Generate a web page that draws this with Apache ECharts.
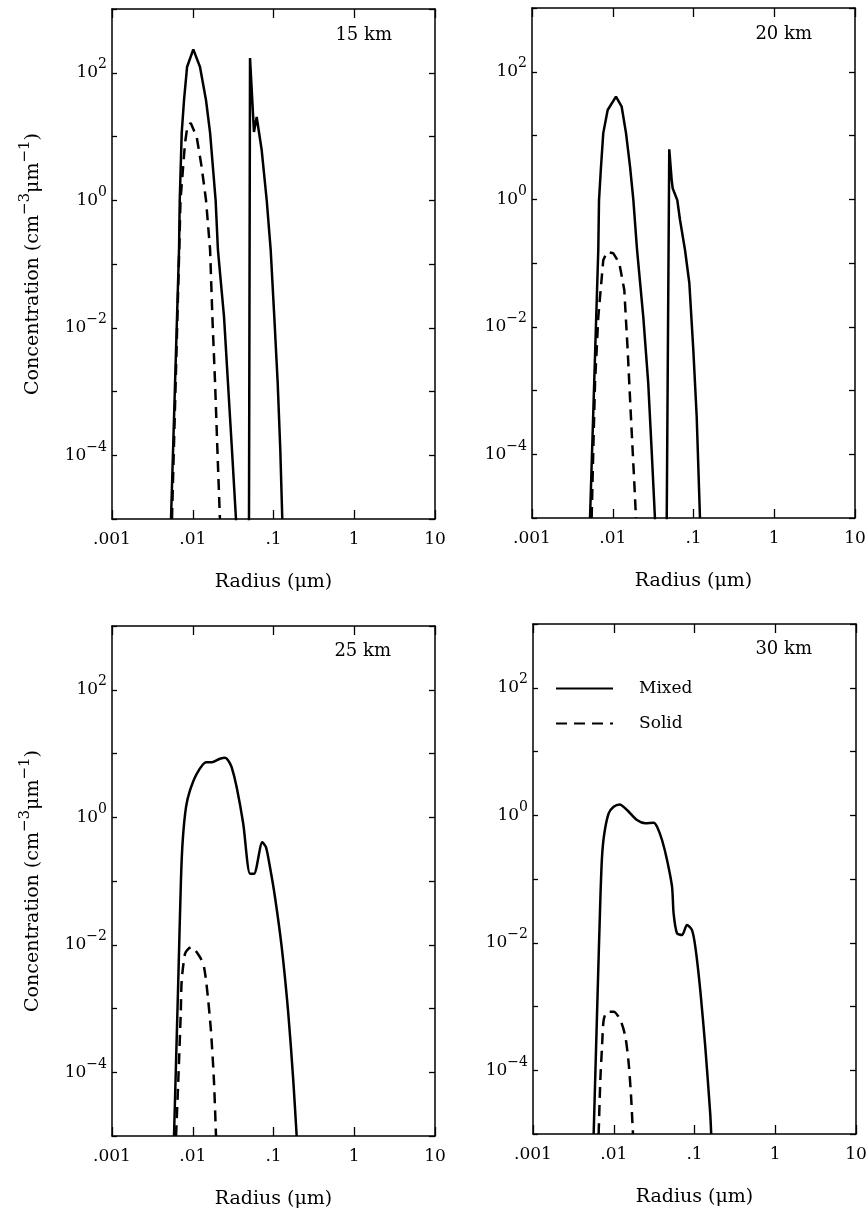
<!DOCTYPE html>
<html>
<head>
<meta charset="utf-8">
<title>Aerosol size distributions</title>
<script src="https://cdn.jsdelivr.net/npm/echarts@6/dist/echarts.min.js"></script>
<style>
  html, body { margin: 0; padding: 0; background: #fff; }
  #chart { width: 867px; height: 1214px; }
</style>
</head>
<body>
<div id="chart"></div>
<script>
// tick labels
const xTickLabels = ['.001', '.01', '.1', '1', '10'];
const yTickExponents = [-4, -2, 0, 2];
const altitudes = ['15 km', '20 km', '25 km', '30 km'];
const seriesNames = ['Mixed', 'Solid'];

// 15 km (radius in um, concentration in cm-3 um-1)
const r15Mixed = [0.00538, 0.00676, 0.0069, 0.0073, 0.0078, 0.0085, 0.01016, 0.0123, 0.0146, 0.0164, 0.0192, 0.0205, 0.0244, 0.0273, 0.0306, 0.0343, 0.036, 0.048, 0.0497, 0.0512, 0.0573, 0.0619, 0.0714, 0.0824, 0.0923, 0.1023, 0.1127, 0.1214, 0.1285];
const c15Mixed = [1e-5, 0.166, 1.0, 11.4, 37.4, 123, 233, 123, 37, 11.4, 1.0, 0.166, 0.0148, 0.00136, 1.21e-4, 1e-5, 1e-7, 1e-7, 1e-5, 170, 11.8, 20.2, 6.14, 1.0, 0.166, 0.0148, 0.00136, 1.21e-4, 1e-5];
const r15Solid = [0.00553, 0.0068, 0.00705, 0.00802, 0.00857, 0.00944, 0.0112, 0.0129, 0.0146, 0.0164, 0.0175, 0.0189, 0.0202, 0.0217];
const c15Solid = [1e-5, 0.166, 1.0, 7.9, 14.1, 16.3, 9.8, 3.3, 1.0, 0.166, 0.0148, 0.00136, 1.21e-4, 1e-5];

// 20 km
const r20Mixed = [0.00523, 0.00662, 0.00676, 0.00715, 0.00763, 0.00865, 0.01097, 0.0129, 0.0146, 0.0164, 0.0180, 0.0200, 0.0239, 0.0275, 0.0303, 0.0333, 0.036, 0.045, 0.0466, 0.0501, 0.0537, 0.0552, 0.0630, 0.0681, 0.0785, 0.0888, 0.0995, 0.1096, 0.1203];
const c20Mixed = [1e-5, 0.16, 0.97, 3.2, 10.9, 25.1, 40.6, 28.3, 10.9, 3.2, 0.97, 0.16, 0.0142, 0.00131, 1.17e-4, 1e-5, 1e-7, 1e-7, 1e-5, 6.08, 2.0, 1.49, 0.97, 0.473, 0.16, 0.0485, 0.00431, 3.8e-4, 1e-5];
const r20Solid = [0.00548, 0.00574, 0.00603, 0.00662, 0.00763, 0.0085, 0.01017, 0.01205, 0.0139, 0.0153, 0.0168, 0.0185, 0.0194];
const c20Solid = [1e-5, 1.17e-4, 0.00131, 0.0142, 0.111, 0.149, 0.142, 0.1, 0.0377, 0.00431, 3.84e-4, 3.5e-5, 1e-5];

// 25 km
const r25Mixed = [0.00586, 0.00662, 0.00714, 0.00751, 0.00825, 0.00924, 0.0112, 0.0146, 0.0172, 0.0217, 0.0251, 0.0275, 0.0303, 0.035, 0.0422, 0.0512, 0.0574, 0.0727, 0.0807, 0.0905, 0.1044, 0.1264, 0.1526, 0.1758, 0.1936];
const c25Mixed = [1e-5, 0.00275, 0.102, 0.431, 1.44, 2.63, 4.8, 7.3, 7.3, 8.26, 8.57, 7.76, 6.1, 2.96, 0.789, 0.130, 0.130, 0.406, 0.339, 0.164, 0.0557, 0.00916, 8.26e-4, 7.4e-5, 1e-5];
const r25Solid = [0.00621, 0.00662, 0.0071, 0.0073, 0.00802, 0.00881, 0.0097, 0.0123, 0.0138, 0.0151, 0.0168, 0.0183, 0.0194];
const c25Solid = [1e-5, 7.4e-5, 8.3e-4, 0.00275, 0.0072, 0.00863, 0.00916, 0.00638, 0.00445, 0.00191, 4.5e-4, 7.4e-5, 1e-5];

// 30 km
const r30Mixed = [0.00564, 0.00621, 0.00682, 0.00716, 0.00765, 0.00865, 0.00997, 0.01184, 0.0146, 0.0194, 0.0246, 0.0312, 0.0344, 0.0396, 0.0457, 0.0527, 0.0551, 0.0607, 0.070, 0.0807, 0.0931, 0.1023, 0.1178, 0.1359, 0.1565, 0.161];
const c30Mixed = [1e-5, 7.8e-4, 0.0469, 0.224, 0.521, 1.07, 1.36, 1.48, 1.21, 0.84, 0.748, 0.764, 0.66, 0.409, 0.199, 0.0757, 0.029, 0.0141, 0.0132, 0.019, 0.0158, 0.00867, 0.00182, 2.34e-4, 2.1e-5, 1e-5];
const r30Solid = [0.0065, 0.00682, 0.00716, 0.0075, 0.00826, 0.00997, 0.0121, 0.0139, 0.0153, 0.0164, 0.0173];
const c30Solid = [1e-5, 7.0e-5, 2.34e-4, 6.1e-4, 8.3e-4, 8.3e-4, 6.1e-4, 3.4e-4, 1.29e-4, 3.8e-5, 1e-5];

const panels = [
  { mixed: [r15Mixed, c15Mixed], solid: [r15Solid, c15Solid] },
  { mixed: [r20Mixed, c20Mixed], solid: [r20Solid, c20Solid] },
  { mixed: [r25Mixed, c25Mixed], solid: [r25Solid, c25Solid] },
  { mixed: [r30Mixed, c30Mixed], solid: [r30Solid, c30Solid] }
];

const font = 'DejaVu Serif';
const black = '#000';

const grids = [
  { left: 112, top: 9, width: 323, height: 510 },
  { left: 532, top: 8, width: 323, height: 510 },
  { left: 112, top: 626, width: 323, height: 510 },
  { left: 533, top: 624, width: 323, height: 510 }
];
const titlePos = [
  { right: 475, top: 26 },
  { right: 55, top: 25 },
  { right: 476, top: 642 },
  { right: 55, top: 640 }
];

function zip(xs, ys) {
  return xs.map((x, i) => [x, ys[i]]);
}
function supText(e) {
  return String(e).replace('-', '\u2212');
}

const axisLineStyle = { color: black, width: 1.5 };
const tickStyle = { color: black, width: 1.3 };

const option = {
  animation: false,
  backgroundColor: '#fff',
  title: [],
  grid: [],
  xAxis: [],
  yAxis: [],
  series: [],
  legend: {
    data: seriesNames,
    orient: 'vertical',
    left: 555,
    top: 680,
    padding: 0,
    itemGap: 18,
    itemWidth: 57,
    itemHeight: 14,
    selectedMode: false,
    itemStyle: { opacity: 0, color: 'rgba(0,0,0,0)', borderWidth: 0 },
    textStyle: { fontFamily: font, fontSize: 17, color: black, padding: [0, 0, 0, 21] }
  }
};

grids.forEach((g, i) => {
  option.grid.push(Object.assign({ show: false, containLabel: false, outerBoundsMode: 'none' }, g));

  option.title.push({
    text: altitudes[i],
    right: titlePos[i].right,
    top: titlePos[i].top,
    padding: 0,
    textStyle: { fontFamily: font, fontSize: 18, fontWeight: 'normal', color: black }
  });

  // bottom x axis
  option.xAxis.push({
    type: 'log', logBase: 10, gridIndex: i, position: 'bottom',
    min: 0.001, max: 10,
    axisLine: { show: true, onZero: false, lineStyle: axisLineStyle },
    axisTick: { show: true, inside: true, length: 9, lineStyle: tickStyle },
    splitLine: { show: false },
    axisLabel: {
      show: true, margin: 12, color: black, fontFamily: font, fontSize: 17,
      showMinLabel: true, showMaxLabel: true, hideOverlap: false,
      formatter: v => xTickLabels[Math.round(Math.log10(v)) + 3]
    },
    name: 'Radius (\u03bcm)',
    nameLocation: 'middle',
    nameGap: 54,
    nameTextStyle: { fontFamily: font, fontSize: 19, color: black }
  });
  // top x axis (frame + ticks)
  option.xAxis.push({
    type: 'log', logBase: 10, gridIndex: i, position: 'top',
    min: 0.001, max: 10,
    axisLine: { show: true, onZero: false, lineStyle: axisLineStyle },
    axisTick: { show: true, inside: true, length: 9, lineStyle: tickStyle },
    splitLine: { show: false },
    axisLabel: { show: false }
  });

  const leftY = {
    type: 'log', logBase: 10, gridIndex: i, position: 'left',
    min: 1e-5, max: 1e3,
    axisLine: { show: true, onZero: false, lineStyle: axisLineStyle },
    axisTick: { show: true, inside: true, length: 5, lineStyle: tickStyle },
    splitLine: { show: false },
    axisLabel: {
      show: true, margin: 5, color: black, fontFamily: font, fontSize: 17,
      showMinLabel: true, showMaxLabel: true, hideOverlap: false,
      formatter: v => {
        const e = Math.round(Math.log10(v));
        return yTickExponents.includes(e) ? '10{sup|' + supText(e) + '}' : '';
      },
      rich: {
        sup: { fontFamily: font, fontSize: 14, color: black, padding: [0, 0, 16, 0] }
      }
    }
  };
  if (i % 2 === 0) {
    Object.assign(leftY, {
      name: 'Concentration (cm{sup|\u22123}\u03bcm{sup|\u22121})',
      nameLocation: 'middle',
      nameRotate: 90,
      nameGap: 63,
      nameTextStyle: {
        fontFamily: font, fontSize: 19, color: black,
        rich: { sup: { fontFamily: font, fontSize: 15, color: black, padding: [0, 0, 16, 0] } }
      }
    });
  }
  option.yAxis.push(leftY);
  // right y axis (frame + ticks)
  option.yAxis.push({
    type: 'log', logBase: 10, gridIndex: i, position: 'right',
    min: 1e-5, max: 1e3,
    axisLine: { show: true, onZero: false, lineStyle: axisLineStyle },
    axisTick: { show: true, inside: true, length: 6, lineStyle: tickStyle },
    splitLine: { show: false },
    axisLabel: { show: false }
  });

  const p = panels[i];
  const smooth = i >= 2 ? 0.25 : false;
  option.series.push({
    type: 'line', name: seriesNames[0],
    xAxisIndex: i * 2, yAxisIndex: i * 2,
    data: zip(p.mixed[0], p.mixed[1]),
    symbol: 'none', showSymbol: false, smooth: smooth, clip: true,
    lineStyle: { color: black, width: 2.5, type: 'solid' },
    itemStyle: { color: black },
    z: 3
  });
  option.series.push({
    type: 'line', name: seriesNames[1],
    xAxisIndex: i * 2, yAxisIndex: i * 2,
    data: zip(p.solid[0], p.solid[1]),
    symbol: 'none', showSymbol: false, smooth: smooth, clip: true,
    lineStyle: { color: black, width: 2.5, type: [11, 7] },
    itemStyle: { color: black },
    z: 3
  });
});

const chart = echarts.init(document.getElementById('chart'), null, { renderer: 'canvas' });
chart.setOption(option);
</script>
</body>
</html>
